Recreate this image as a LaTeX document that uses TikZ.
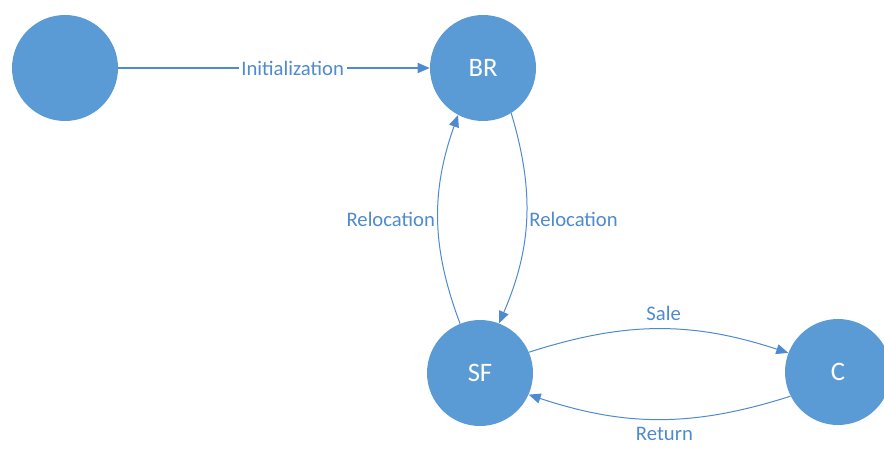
\documentclass[tikz,border=0pt]{standalone}
\usepackage{fontspec}
\setmainfont{Carlito}
\usetikzlibrary{arrows.meta}
\definecolor{stateblue}{RGB}{91,155,213}
\definecolor{flowblue}{RGB}{78,138,208}
\begin{document}
\begin{tikzpicture}[x=0.75pt,y=0.75pt,yscale=-1,
  state/.style={circle, fill=stateblue, minimum size=79.5pt, inner sep=0pt, text=white, font=\fontsize{20}{24}\selectfont},
  flow/.style={draw=flowblue, line width=0.75pt, -{Triangle[length=9pt,width=7.5pt]}},
  lbl/.style={text=flowblue, font=\fontsize{15.5}{18}\selectfont, inner sep=2pt}]
\useasboundingbox (0,0) rectangle (884,449);
\clip (0,0) rectangle (884,449);

% States
\node[state] (init) at (65,68) {};
\node[state] (br) at (483,68) {BR};
\node[state] (sf) at (480,373) {SF};
\node[state] (c) at (838,372) {C};

% Transitions
\draw[flow, line width=1.3pt] (init) -- node[lbl, fill=white, pos=.56] (initlbl) {Initialization} (br);
\draw[flow] (br.-58) to[bend right=20] node[lbl, right] (relocr) {Relocation} (sf.69);
\draw[flow] (sf.112) to[bend right=20] node[lbl, left] (relocl) {Relocation} (br.-118);
\draw[flow] (sf.23) to[bend right=18] node[lbl, above=4pt, pos=.52] (sale) {Sale} (c.159);
\draw[flow] (c.-153) to[bend right=18] node[lbl, below=4pt, pos=.48] (ret) {Return} (sf.-24);

\end{tikzpicture}
\end{document}
